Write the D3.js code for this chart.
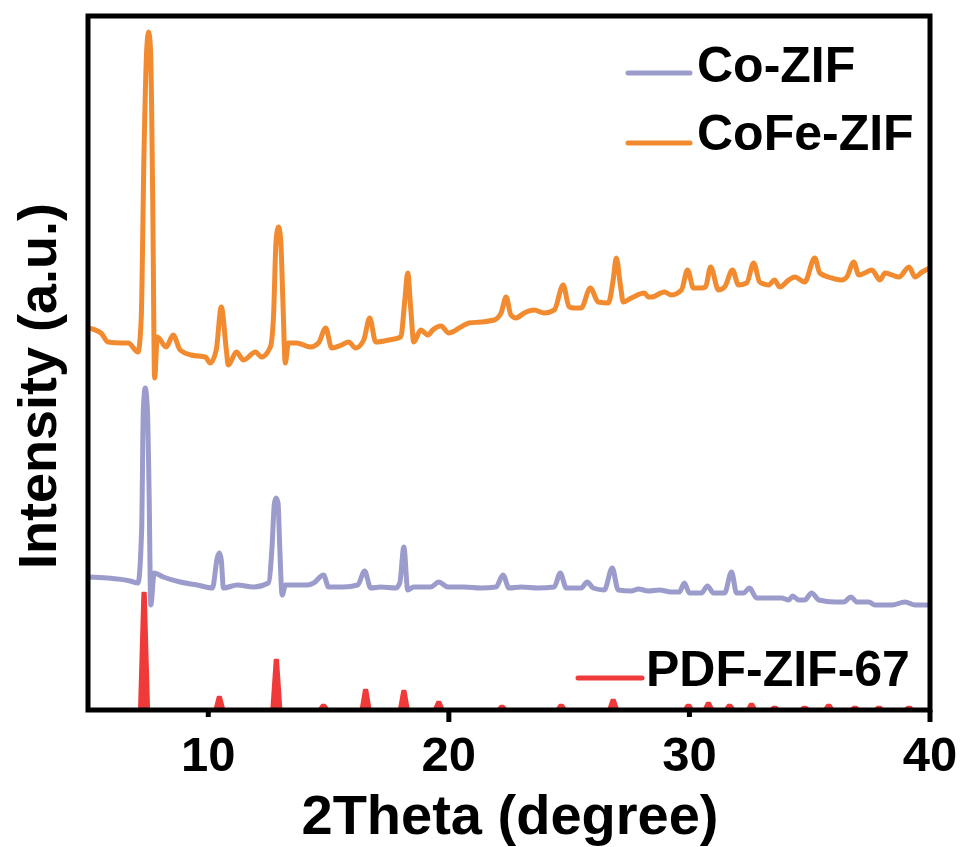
<!DOCTYPE html>
<html>
<head>
<meta charset="utf-8">
<script src="https://cdnjs.cloudflare.com/ajax/libs/d3/7.8.5/d3.min.js"></script>
<style>
	body { margin: 0; background: #fff; }
	text { font-family: "Liberation Sans", Arial, sans-serif; font-weight: bold; fill: #000; }
</style>
</head>
<body>
<div id="chart"></div>
<script>
//  2Theta (deg), intensity (a.u.)
var coFeZif = [
	[5.00,382],[5.54,377],[5.83,368],[6.38,367],[6.67,367],[7.08,358],[7.21,390],[7.33,560],
	[7.44,660],[7.52,678],[7.60,660],[7.69,510],[7.77,332],[7.88,373],[8.25,363],[8.54,375],[8.83,360],
	[9.29,355],[9.88,353],[10.08,347],[10.33,360],[10.54,403],[10.75,360],[10.83,345],[11.17,358],
	[11.46,350],[11.96,358],[12.21,353],[12.58,363],[12.71,393],[12.82,470],[12.92,483],[13.01,470],
	[13.10,410],[13.20,347],
	[13.33,367],[13.67,367],[14.25,363],[14.58,367],[14.88,382],[15.13,362],[15.54,365],[15.83,368],
	[16.13,362],[16.46,370],[16.71,392],[16.96,368],[17.50,370],[18.00,373],[18.17,410],[18.29,437],
	[18.42,400],[18.54,368],[18.83,380],[19.13,375],[19.33,380],[19.67,384],[20.00,377],[20.50,383],
	[20.83,387],[21.33,388],[21.88,390],[22.17,397],[22.38,413],[22.58,395],[22.79,392],[23.13,397],
	[23.54,400],[23.96,397],[24.38,400],[24.75,425],[25.00,403],[25.21,402],[25.50,402],[25.88,422],
	[26.21,408],[26.63,407],[26.83,430],[26.96,452],[27.13,425],[27.25,408],[27.58,412],[28.13,417],
	[28.29,413],[28.42,413],[28.96,418],[29.25,415],[29.67,420],[29.92,440],[30.17,422],[30.50,422],
	[30.67,423],[30.88,443],[31.21,420],[31.46,423],[31.79,440],[32.04,425],[32.38,427],[32.67,447],
	[32.92,428],[33.29,425],[33.54,430],[33.75,423],[34.13,430],[34.38,433],[34.79,428],[35.21,452],
	[35.42,437],[35.92,432],[36.33,430],[36.54,433],[36.83,448],[37.04,435],[37.29,437],[37.58,440],
	[37.92,430],[38.13,437],[38.71,433],[39.13,443],[39.38,433],[39.67,438],[40.00,442]
];

var coZif = [
	[5.00,133],[5.79,132],[6.75,129],[7.08,127],[7.23,180],[7.30,300],[7.38,322],[7.47,300],
	[7.54,217],[7.61,105],[7.75,137],[8.13,133],[8.83,128],[9.54,125],[10.17,122],[10.38,153],[10.46,157],[10.54,150],
	[10.63,122],[11.21,125],[11.88,123],[12.50,127],[12.65,163],[12.75,207],[12.82,212],[12.90,207],
	[12.97,163],[13.07,115],
	[13.21,125],[14.13,125],[14.38,127],[14.79,135],[15.00,123],[15.63,123],[16.21,125],[16.50,139],
	[16.75,122],[17.17,123],[17.79,122],[17.96,127],[18.13,163],[18.29,120],[18.54,123],[19.25,123],
	[19.58,128],[19.96,123],[20.63,123],[21.33,122],[21.96,123],[22.25,135],[22.50,122],[23.00,123],
	[23.71,122],[24.38,123],[24.63,137],[24.88,122],[25.50,122],[25.75,128],[26.00,122],[26.46,120],
	[26.79,142],[27.04,120],[27.58,119],[27.88,121],[28.29,119],[28.75,120],[29.25,118],[29.58,118],
	[29.79,127],[30.00,117],[30.50,117],[30.75,124],[31.00,117],[31.46,117],[31.75,138],[31.96,117],
	[32.25,117],[32.50,122],[32.79,112],[33.29,112],[33.83,112],[34.13,110],[34.29,114],[34.54,110],
	[34.79,110],[35.08,117],[35.38,110],[36.04,108],[36.42,108],[36.71,113],[36.96,108],[37.46,108],
	[37.71,105],[38.42,105],[38.96,108],[39.38,105],[40.00,105]
];

//  PDF-ZIF-67 reference peaks
var pdfPos = [7.33,10.46,12.83,14.79,16.54,18.13,19.58,22.21,24.67,26.83,29.96,30.79,31.67,32.58,33.54,34.79,35.79,36.88,37.88,39.13];
var pdfInt = [117,13,50,5,20,19,8,4,5,10,5,7,5,6,3,3,5,3,3,3];

var xTicks = [10, 20, 30, 40];
var majorTicks = [20, 40];
var legendNames = ["Co-ZIF", "CoFe-ZIF", "PDF-ZIF-67"];
var colors = ["#9b9bcc", "#f28b30", "#f03a3a"];

var width = 964,
		height = 847;
var mLeft = 88, mRight = 930, mTop = 16, mBottom = 710;

var svg = d3.select("#chart").append("svg").attr("width", width)
	.attr("height", height);

var x = d3.scaleLinear().domain([5, 40]).range([mLeft, mRight]);
var y = d3.scaleLinear().domain([0, 694]).range([mBottom, mTop]);

var line = d3.line().x(function(d) { return x(d[0]); })
	.y(function(d) { return y(d[1]); });
var smooth = d3.line().curve(d3.curveMonotoneX)
	.x(function(d) { return x(d[0]); })
	.y(function(d) { return y(d[1]); });

var plot = svg.append("g");

//  PDF sticks, drawn as narrow filled peaks
var pdfPeaks = pdfPos.map(function(p, i) {
	return [[p - 0.2, 0], [p - 0.06, pdfInt[i]], [p + 0.06, pdfInt[i]], [p + 0.2, 0]];
});
plot.selectAll("path.pdf").data(pdfPeaks).enter().append("path")
	.attr("class", "pdf")
	.attr("d", function(d) { return line(d) + "Z"; })
	.attr("fill", colors[2]).attr("stroke", colors[2])
	.attr("stroke-width", 2.5).attr("stroke-linejoin", "round");

plot.append("path").datum(coZif).attr("d", smooth)
	.attr("fill", "none").attr("stroke", colors[0]).attr("stroke-width", 5)
	.attr("stroke-linejoin", "round");

plot.append("path").datum(coFeZif).attr("d", smooth)
	.attr("fill", "none").attr("stroke", colors[1]).attr("stroke-width", 5)
	.attr("stroke-linejoin", "round");

//  Frame and bottom axis
svg.append("rect").attr("x", mLeft).attr("y", mTop)
	.attr("width", mRight - mLeft).attr("height", mBottom - mTop)
	.attr("fill", "none").attr("stroke", "#000").attr("stroke-width", 5);

svg.selectAll("line.tick").data(xTicks).enter().append("line")
	.attr("x1", function(d) { return x(d); }).attr("x2", function(d) { return x(d); })
	.attr("y1", mBottom)
	.attr("y2", function(d) { return mBottom + (majorTicks.indexOf(d) > -1 ? 12 : 7); })
	.attr("stroke", "#000").attr("stroke-width", 5);

svg.selectAll("text.tick").data(xTicks).enter().append("text")
	.attr("x", function(d) { return x(d); }).attr("y", 771)
	.attr("text-anchor", "middle").style("font-size", "49px")
	.text(function(d) { return d; });

svg.append("text").attr("x", 510).attr("y", 834).attr("text-anchor", "middle")
	.style("font-size", "56px").text("2Theta (degree)");

svg.append("text").attr("transform", "translate(56,386)rotate(-90)")
	.attr("text-anchor", "middle").style("font-size", "54px")
	.text("Intensity (a.u.)");

//  Legend
var legend = [
	{name: legendNames[0], color: colors[0], x1: 628, x2: 690, y: 73, tx: 697, ty: 82},
	{name: legendNames[1], color: colors[1], x1: 628, x2: 690, y: 143, tx: 697, ty: 150},
	{name: legendNames[2], color: colors[2], x1: 578, x2: 642, y: 678, tx: 646, ty: 686}
];
var lg = svg.selectAll("g.legend").data(legend).enter().append("g").attr("class", "legend");
lg.append("line").attr("x1", function(d) { return d.x1; }).attr("x2", function(d) { return d.x2; })
	.attr("y1", function(d) { return d.y; }).attr("y2", function(d) { return d.y; })
	.attr("stroke", function(d) { return d.color; }).attr("stroke-width", 5)
	.attr("stroke-linecap", "round");
lg.append("text").attr("x", function(d) { return d.tx; }).attr("y", function(d) { return d.ty; })
	.style("font-size", "50px").text(function(d) { return d.name; });
</script>
</body>
</html>
